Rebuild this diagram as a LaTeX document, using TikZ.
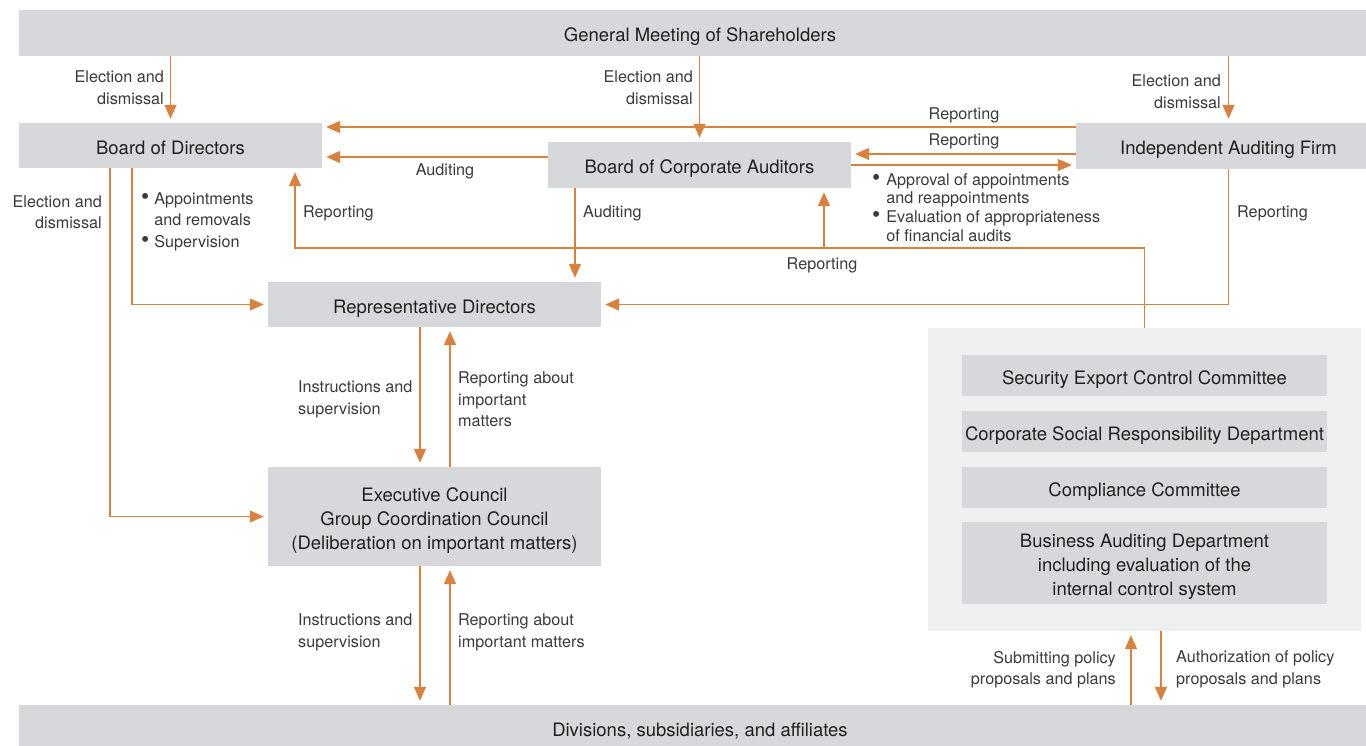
\documentclass[tikz,border=0pt]{standalone}
\usepackage{fontspec}
\setmainfont{TeX Gyre Heros}
\usetikzlibrary{arrows.meta}
\definecolor{boxgray}{HTML}{D7D8DC}
\definecolor{panelgray}{HTML}{EEEFF1}
\definecolor{linkorange}{HTML}{D9823F}
\definecolor{textdark}{HTML}{231F20}
\definecolor{labelgray}{HTML}{3A3A3C}
\newcommand{\bul}{\raisebox{-0.3pt}{\scalebox{1.45}{\textbullet}}}
\begin{document}
\begin{tikzpicture}[x=1pt,y=-1pt,
    box/.style={fill=boxgray,inner sep=0pt,align=center,text=textdark,
        font=\fontsize{18.5}{24}\selectfont,text height=17.5pt,text depth=0pt},
    box3/.style={box,text height=65.5pt},
    lbl/.style={inner sep=0pt,text=labelgray,font=\fontsize{16.2}{21.5}\selectfont,yshift=-0.5pt},
    one/.style={lbl,yshift=0pt,text height=10.5pt,text depth=0pt},
    link/.style={draw=linkorange,line width=1.4pt},
    arr/.style={link,-{Triangle[length=14pt,width=12pt]},shorten >=4pt}]
\useasboundingbox (0,0) rectangle (1366,746);
\clip (0,0) rectangle (1366,746);
% boxes
\node[box,minimum width=1362,minimum height=46] (gm) at (700,33) {General Meeting of Shareholders};
\node[box,minimum width=303,minimum height=45] (bod) at (170.5,145.5) {Board of Directors};
\node[box,minimum width=303,minimum height=46] (bca) at (699.5,165) {Board of Corporate Auditors};
\node[box,minimum width=305,minimum height=46] (iaf) at (1228.5,146) {Independent Auditing Firm};
\node[box,minimum width=333,minimum height=45] (rep) at (434.5,304.5) {Representative Directors};
\node[box3,minimum width=333,minimum height=99] (exe) at (434.5,516.5)
    {Executive Council\\Group Coordination Council\\(Deliberation on important matters)};
\node[box,minimum width=1362,minimum height=46] (div) at (700,728) {Divisions, subsidiaries, and affiliates};
\node[fill=panelgray,minimum width=433,minimum height=303,inner sep=0pt] (panel) at (1144.5,479.5) {};
\foreach \n/\y/\t in {sec/375.5/Security Export Control Committee,
    csr/431.5/Corporate Social Responsibility Department,
    cmp/487.5/Compliance Committee}
    \node[box,minimum width=365,minimum height=41] (\n) at (1144.5,\y) {\t};
\node[box3,minimum width=365,minimum height=82] (bad) at (1144.5,563)
    {Business Auditing Department\\including evaluation of the\\internal control system};
% connectors
\draw[arr] (gm.south -| bod.north) -- (bod.north);
\draw[arr] (gm.south -| bca.north) -- (bca.north);
\draw[arr] (gm.south -| iaf.north) -- (iaf.north);
\draw[arr] (iaf.west |- 0,127) -- (bod.east |- 0,127);
\draw[arr] (iaf.west |- 0,154) -- (bca.east |- 0,154);
\draw[arr] (bca.east) -- (iaf.west |- bca.east);
\draw[arr] (bca.west |- 0,157) -- (bod.east |- 0,157);
\draw[arr] (bod.south -| 132,0) |- (rep.west);
\draw[arr] (bod.south -| 110,0) |- (exe.west);
\draw[arr] (bca.south -| 575,0) -- (rep.north -| 575,0);
\draw[arr] (iaf.south) |- (rep.east);
\draw[arr] (panel.north) |- (295,248) -- (bod.south -| 295,0);
\draw[arr] (824,248) -- (bca.south -| 824,0);
\foreach \a/\b in {rep/exe,exe/div}{
    \draw[arr] (\a.south -| 420,0) -- (\b.north -| 420,0);
    \draw[arr] (\b.north -| 450,0) -- (\a.south -| 450,0);
}
\draw[arr] (div.north -| 1131,0) -- (panel.south -| 1131,0);
\draw[arr] (panel.south -| 1161,0) -- (div.north -| 1161,0);
% labels
\foreach \n/\x/\y in {elbod/164/87,elbca/693/87,eliaf/1221/91,elexe/102/211.5}
    \node[lbl,anchor=east,align=right] (\n) at (\x,\y) {Election and\\dismissal};
\node[one] (rpbod) at (964,114) {Reporting};
\node[one] (rpbca) at (964,140) {Reporting};
\node[one] (aubod) at (445,170) {Auditing};
\node[one,anchor=west] (aurep) at (583,212) {Auditing};
\node[one,anchor=west] (rpup) at (303,212) {Reporting};
\node[one,anchor=west] (rpiaf) at (1237,212) {Reporting};
\node[one] (rppanel) at (822,264) {Reporting};
\node[lbl,anchor=west,align=left] (bulbod) at (141,221)
    {\begin{tabular}{@{}l@{\hspace{5pt}}l@{}}\bul&Appointments\\&and removals\\\bul&Supervision\end{tabular}};
\node[lbl,anchor=west,align=left,font=\fontsize{16.2}{18.7}\selectfont] (buliaf) at (872,209)
    {\begin{tabular}{@{}l@{\hspace{6pt}}l@{}}\bul&Approval of appointments\\&and reappointments\\
    \bul&Evaluation of appropriateness\\&of financial audits\end{tabular}};
\foreach \y/\n in {399/a,632/b}
    \node[lbl,anchor=west,align=left] (ins\n) at (298,\y) {Instructions and\\supervision};
\node[lbl,anchor=west,align=left] (rpma) at (458,399) {Reporting about\\important\\matters};
\node[lbl,anchor=west,align=left] (rpmb) at (458,632) {Reporting about\\important matters};
\node[lbl,anchor=east,align=right] (subm) at (1116,669) {Submitting policy\\proposals and plans};
\node[lbl,anchor=west,align=left] (auth) at (1176,669) {Authorization of policy\\proposals and plans};
\end{tikzpicture}
\end{document}
